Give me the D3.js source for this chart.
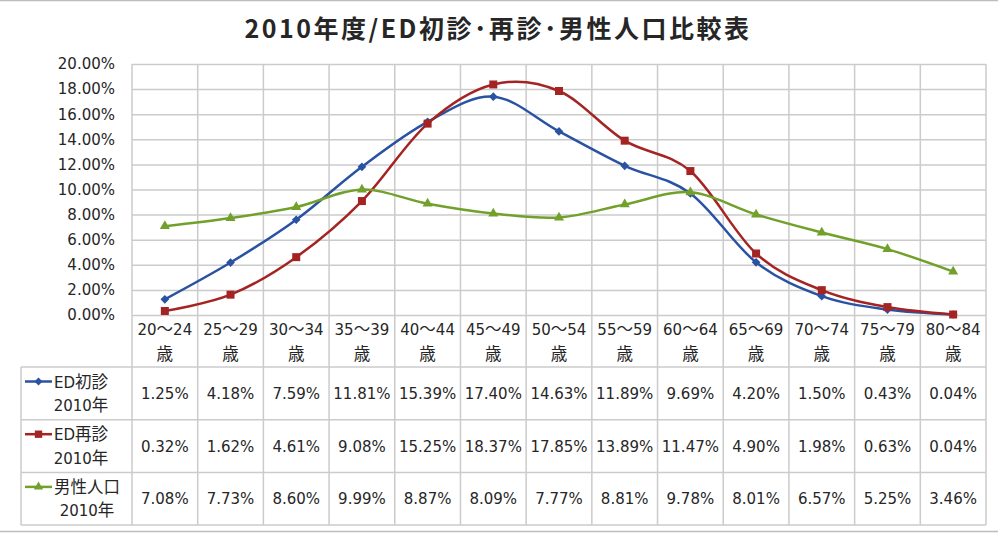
<!DOCTYPE html>
<html>
<head>
<meta charset="utf-8">
<script src="https://cdn.jsdelivr.net/npm/d3@7"></script>
<style>
  body { margin: 0; background: #fff; }
  text { font-family: "DejaVu Sans", "Noto Sans CJK JP", sans-serif; fill: #262626; }
</style>
</head>
<body>
<div id="chart-area"></div>
<script>
// values (percent)
var categories = ["20～24歳", "25～29歳", "30～34歳", "35～39歳", "40～44歳", "45～49歳", "50～54歳",
                  "55～59歳", "60～64歳", "65～69歳", "70～74歳", "75～79歳", "80～84歳"];
var edFirst  = [1.25, 4.18, 7.59, 11.81, 15.39, 17.40, 14.63, 11.89, 9.69, 4.20, 1.50, 0.43, 0.04];
var edRepeat = [0.32, 1.62, 4.61, 9.08, 15.25, 18.37, 17.85, 13.89, 11.47, 4.90, 1.98, 0.63, 0.04];
var malePop  = [7.08, 7.73, 8.60, 9.99, 8.87, 8.09, 7.77, 8.81, 9.78, 8.01, 6.57, 5.25, 3.46];
var seriesLabels = [["ED初診", "2010年"], ["ED再診", "2010年"], ["男性人口", "2010年"]];
var yTicks = [0, 2, 4, 6, 8, 10, 12, 14, 16, 18, 20];
var chartTitle = "2010年度/ED初診･再診･男性人口比較表";

var width = 1000, height = 533;
var plotLeft = 132, plotRight = 986, plotTop = 64, plotBottom = 315;
var tableLeft = 21, headerBottom = 367, rowH = 52.7;
var gridColor = "#cbcbcb";

var series = [
  { values: edFirst,  colour: "#2a52a3", marker: "diamond" },
  { values: edRepeat, colour: "#a32423", marker: "square" },
  { values: malePop,  colour: "#71a02b", marker: "triangle" }
];

var svg = d3.select("#chart-area").append("svg")
  .attr("width", width)
  .attr("height", height);

// Meiryo-ish look: latin smaller, kana/kanji a bit bigger
function mixedText(sel, str) {
  str.match(/[\u3000-\u9fff\uff00-\uffef]+|[^\u3000-\u9fff\uff00-\uffef]+/g).forEach(run => {
    sel.append("tspan")
      .style("font-size", /[\u3000-\u9fff\uff00-\uffef]/.test(run) ? "16.5px" : "15px")
      .text(run);
  });
  return sel;
}

// outer frame lines (only top and bottom fall inside the picture)
svg.append("line").attr("x1", 0).attr("x2", 998).attr("y1", 0.5).attr("y2", 0.5)
  .attr("stroke", "#bdbdbd").attr("stroke-width", 1.5);
svg.append("line").attr("x1", 0).attr("x2", 998).attr("y1", 531.5).attr("y2", 531.5)
  .attr("stroke", "#bdbdbd").attr("stroke-width", 1.5);

svg.append("text")
  .attr("x", 498)
  .attr("y", 38)
  .style("text-anchor", "middle")
  .style("font-family", "'Noto Sans CJK JP', sans-serif")
  .style("font-weight", "bold")
  .style("font-size", "25px")
  .style("letter-spacing", "2.5px")
  .text(chartTitle);

var x = d3.scaleBand()
  .domain(categories)
  .range([plotLeft, plotRight])
  .padding(0);

var y = d3.scaleLinear()
  .domain([0, 20])
  .range([plotBottom, plotTop]);

// horizontal gridlines + tick labels
var yAxis = d3.axisLeft(y)
  .tickValues(yTicks)
  .tickSize(-(plotRight - plotLeft))
  .tickPadding(17)
  .tickFormat(d => d.toFixed(2) + "%");

var gy = svg.append("g")
  .attr("transform", `translate(${plotLeft},0)`)
  .call(yAxis);
gy.select(".domain").remove();
gy.selectAll(".tick line").attr("stroke", gridColor).attr("stroke-width", 1.5);
gy.selectAll(".tick text")
  .style("font-size", "15px")
  .style("fill", "#262626")
  .style("font-family", "'DejaVu Sans', sans-serif");

// vertical gridlines running through the data table
var bounds = categories.map(c => x(c)).concat([plotRight]);
svg.selectAll("line.vgrid")
  .data(bounds)
  .enter()
  .append("line")
  .attr("class", "vgrid")
  .attr("x1", d => d).attr("x2", d => d)
  .attr("y1", plotTop).attr("y2", headerBottom + rowH * 3)
  .attr("stroke", gridColor).attr("stroke-width", 1.5);

// table rules
var rowLines = [0, 1, 2, 3].map(i => headerBottom + i * rowH);
svg.selectAll("line.hrule")
  .data(rowLines)
  .enter()
  .append("line")
  .attr("class", "hrule")
  .attr("x1", tableLeft).attr("x2", plotRight)
  .attr("y1", d => d).attr("y2", d => d)
  .attr("stroke", gridColor).attr("stroke-width", 1.5);
svg.append("line")
  .attr("x1", tableLeft).attr("x2", tableLeft)
  .attr("y1", headerBottom).attr("y2", headerBottom + rowH * 3)
  .attr("stroke", gridColor).attr("stroke-width", 1.5);

// category header: age range, then 歳 underneath
var cx = d => x(d) + x.bandwidth() / 2;
categories.forEach(c => {
  mixedText(svg.append("text")
    .attr("x", cx(c))
    .attr("y", 334.5)
    .style("text-anchor", "middle"), c.slice(0, -1));
  mixedText(svg.append("text")
    .attr("x", cx(c))
    .attr("y", 359.5)
    .style("text-anchor", "middle"), c.slice(-1));
});

function markerPath(kind, scale) {
  if (kind == "diamond") return d3.symbol(d3.symbolSquare, 38 * scale)();
  if (kind == "square") return d3.symbol(d3.symbolSquare, 64 * scale)();
  return d3.symbol(d3.symbolTriangle, 44 * scale)();
}

var line = d3.line()
  .x((d, i) => cx(categories[i]))
  .y(d => y(d))
  .curve(d3.curveCardinal.tension(0));

series.forEach((s, si) => {
  svg.append("path")
    .datum(s.values)
    .attr("fill", "none")
    .attr("stroke", s.colour)
    .attr("stroke-width", 2.5)
    .attr("d", line);

  svg.selectAll(`path.m${si}`)
    .data(s.values)
    .enter()
    .append("path")
    .attr("class", `m${si}`)
    .attr("d", markerPath(s.marker, 1))
    .attr("transform", (d, i) => `translate(${cx(categories[i])},${y(d)})` + (s.marker == "diamond" ? " rotate(45)" : ""))
    .attr("fill", s.colour);

  // table row
  var rowTop = headerBottom + si * rowH;
  svg.selectAll(`text.v${si}`)
    .data(s.values)
    .enter()
    .append("text")
    .attr("class", `v${si}`)
    .attr("x", (d, i) => cx(categories[i]))
    .attr("y", rowTop + rowH / 2 + 5.5)
    .style("text-anchor", "middle")
    .style("font-size", "15px")
    .text(d => d.toFixed(2) + "%");

  // legend key in the row header
  var ky = rowTop + 14.5;
  svg.append("line")
    .attr("x1", 25).attr("x2", 52)
    .attr("y1", ky).attr("y2", ky)
    .attr("stroke", s.colour).attr("stroke-width", 2.5);
  svg.append("path")
    .attr("d", markerPath(s.marker, 0.85))
    .attr("transform", `translate(38.5,${ky})` + (s.marker == "diamond" ? " rotate(45)" : ""))
    .attr("fill", s.colour);

  var l1 = mixedText(svg.append("text")
    .attr("x", 54)
    .attr("y", ky + 6), seriesLabels[si][0]);
  var w1 = l1.node().getComputedTextLength();
  mixedText(svg.append("text")
    .attr("x", 54 + w1 / 2)
    .attr("y", ky + 29.5)
    .style("text-anchor", "middle"), seriesLabels[si][1]);
});
</script>
</body>
</html>
